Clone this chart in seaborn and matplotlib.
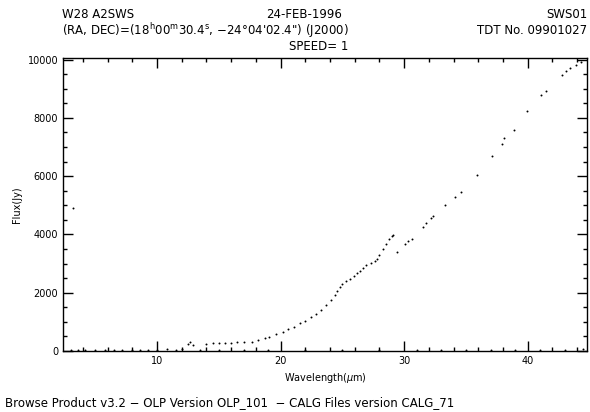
import numpy as np
import pandas as pd
import matplotlib
matplotlib.use('Agg')
import matplotlib.pyplot as plt
from matplotlib.ticker import MultipleLocator
import seaborn as sns

# espectro (comprimento de onda em micron, fluxo em Jy)
wave_main = [17.65, 18.2, 18.7, 19.1, 19.6, 20.2, 20.6, 21.1, 21.6, 22.0, 22.5, 22.9,
             23.3, 23.7, 24.1, 24.4, 24.6, 24.8, 25.0, 25.3, 25.6, 25.9, 26.2, 26.4,
             26.7, 26.95, 27.3, 27.6, 27.8, 28.0, 28.3, 28.5, 28.8, 29.0, 29.1]
flux_main = [320, 370, 430, 490, 570, 660, 740, 840, 945, 1040, 1160, 1285,
             1420, 1570, 1740, 1910, 2050, 2190, 2300, 2400, 2480, 2580, 2680, 2760,
             2850, 2935, 3030, 3100, 3160, 3300, 3500, 3660, 3850, 3930, 3990]

wave_long = [29.45, 30.05, 30.3, 30.6, 31.5, 31.8, 32.2, 32.3, 33.3, 34.1, 34.6,
             35.9, 37.1, 37.95, 38.1, 38.9, 39.9, 41.1, 41.5, 42.8, 43.1, 43.4, 43.9, 44.3]
flux_long = [3390, 3670, 3760, 3850, 4240, 4380, 4580, 4640, 5000, 5270, 5440,
             6040, 6690, 7090, 7310, 7600, 8230, 8790, 8930, 9480, 9600, 9700, 9820, 9930]

wave_short = [12.5, 12.7, 12.9, 14.0, 14.5, 15.0, 15.5, 16.0, 16.5, 17.0]
flux_short = [250, 300, 200, 250, 260, 270, 270, 280, 300, 310]

# pontos perto de zero e o ponto solto no inicio
wave_low = [3.2, 3.0, 3.6, 4.2, 5.0, 5.8, 6.5, 7.2, 8.0, 8.6, 9.3, 10.0, 10.8, 11.5, 12.0,
            13.5, 15.0, 17.0, 19.0, 22.0, 25.0, 28.0, 31.0, 33.0, 35.0, 37.0, 39.0, 41.0, 43.0, 44.5]
flux_low = [4900, 30, 40, 20, 30, 40, 30, 50, 40, 30, 50, 40, 60, 50, 80,
            40, 30, 20, 30, 20, 30, 20, 30, 20, 40, 30, 20, 30, 20, 60]

Base_Dados = pd.DataFrame({
    'wave': wave_low + wave_short + wave_main + wave_long,
    'flux': flux_low + flux_short + flux_main + flux_long,
})

sns.set_style('ticks')
plt.rcParams['font.family'] = ['DejaVu Sans']
plt.rcParams['text.color'] = 'black'
plt.rcParams['axes.labelcolor'] = 'black'
plt.rcParams['xtick.color'] = 'black'
plt.rcParams['ytick.color'] = 'black'
plt.rcParams['axes.edgecolor'] = 'black'

fig = plt.figure(figsize=(5.9, 4.12), dpi=100)
ax = fig.add_axes([0.107, 0.148, 0.888, 0.711])

sns.scatterplot(data=Base_Dados, x='wave', y='flux', s=2, color='black',
                edgecolor=None, linewidth=0, ax=ax)

ax.set_xlim(2.4, 44.8)
ax.set_ylim(0, 10050)
ax.xaxis.set_major_locator(MultipleLocator(10))
ax.xaxis.set_minor_locator(MultipleLocator(2))
ax.yaxis.set_major_locator(MultipleLocator(2000))
ax.yaxis.set_minor_locator(MultipleLocator(500))
ax.tick_params(which='both', direction='in', top=True, right=True, labelsize=7, width=1)
ax.tick_params(which='major', length=7)
ax.tick_params(which='minor', length=3)
for s in ax.spines.values():
    s.set_linewidth(1)

ax.set_xlabel('Wavelength($\\mu$m)', fontsize=7)
ax.set_ylabel('Flux(Jy)', fontsize=7)

fig.text(0.105, 0.965, 'W28 A2SWS', fontsize=8.5, va='center')
fig.text(0.105, 0.925, '(RA, DEC)=(18$^{\\rm h}$00$^{\\rm m}$30.4$^{\\rm s}$, \u221224\u00b004\'02.4") (J2000)',
         fontsize=8.5, va='center')
fig.text(0.515, 0.965, '24-FEB-1996', fontsize=8.5, va='center', ha='center')
fig.text(0.54, 0.888, 'SPEED= 1', fontsize=8.5, va='center', ha='center')
fig.text(0.995, 0.965, 'SWS01', fontsize=8.5, va='center', ha='right')
fig.text(0.995, 0.925, 'TDT No. 09901027', fontsize=8.5, va='center', ha='right')
fig.text(0.008, 0.022, 'Browse Product v3.2 \u2212 OLP Version OLP_101  \u2212 CALG Files version CALG_71',
         fontsize=8.5, va='center')

fig.savefig('out.png', dpi=100)
